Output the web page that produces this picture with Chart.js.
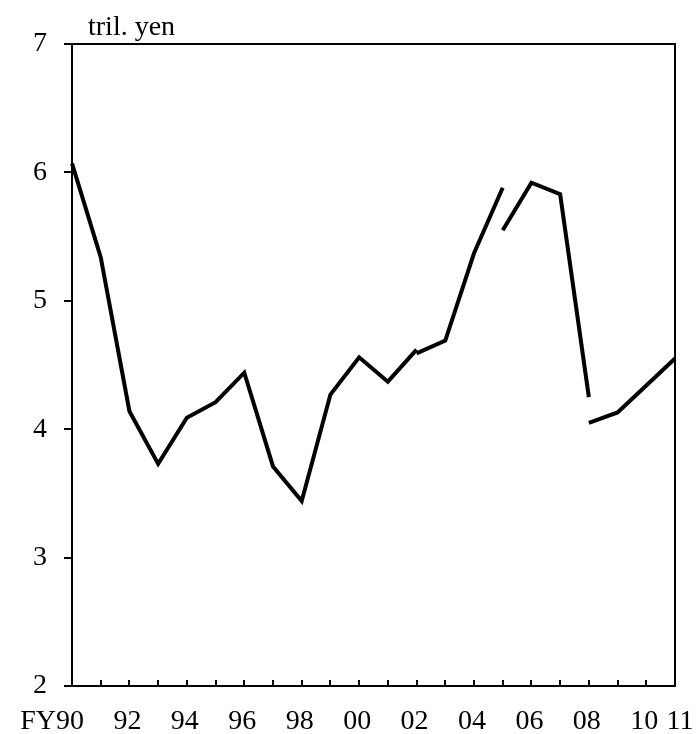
<!DOCTYPE html>
<html>
<head>
<meta charset="utf-8">
<script src="https://cdn.jsdelivr.net/npm/chart.js@4.4.1/dist/chart.umd.min.js"></script>
<style>
  html, body { margin: 0; padding: 0; background: #fff; }
  #wrap { width: 696px; height: 734px; position: relative; }
</style>
</head>
<body>
<div id="wrap"><canvas id="c" width="696" height="734"></canvas></div>
<script>
// ---- data ----
const years = ['90','91','92','93','94','95','96','97','98','99','00','01','02','03','04','05','06','07','08','09','10','11'];
const tickLabels = ['90','92','94','96','98','00','02','04','06','08','10','11'];
const unitLabel = 'tril. yen';
const axisPrefix = 'FY';
// segments (series break at 02, 05, 08)
const seg1Start = '90';
const seg1 = [6.07, 5.34, 4.14, 3.73, 4.09, 4.21, 4.44, 3.71, 3.44, 4.27, 4.56, 4.37, 4.62];
const seg2Start = '02';
const seg2 = [4.59, 4.69, 5.37, 5.88];
const seg3Start = '05';
const seg3 = [5.55, 5.92, 5.83, 4.25];
const seg4Start = '08';
const seg4 = [4.05, 4.13, 4.34, 4.55];
const yTicks = [2, 3, 4, 5, 6, 7];

function place(start, vals) {
  const arr = new Array(years.length).fill(null);
  const s = years.indexOf(start);
  vals.forEach((v, i) => { arr[s + i] = v; });
  return arr;
}

const FONT = '"Liberation Serif", "Times New Roman", serif';
const FS = 28;
const XPAD = 19;

function ds(data) {
  return { data, borderColor: '#000', borderWidth: 4, pointRadius: 0, pointHoverRadius: 0,
           tension: 0, spanGaps: false, fill: false, borderCapStyle: 'butt', borderJoinStyle: 'miter' };
}

const framePlugin = {
  id: 'frame',
  afterDraw(chart) {
    const { ctx, chartArea: { left, right, top, bottom }, scales: { x } } = chart;
    ctx.save();
    ctx.strokeStyle = '#000';
    ctx.lineWidth = 2;
    ctx.beginPath();
    ctx.moveTo(left - 1, top);
    ctx.lineTo(right, top);
    ctx.lineTo(right, bottom + 1);
    ctx.stroke();
    // inner tick marks on the category axis
    ctx.beginPath();
    for (let i = 1; i < years.length - 1; i++) {
      const px = Math.round(x.getPixelForValue(i));
      ctx.moveTo(px, bottom);
      ctx.lineTo(px, bottom - 6);
    }
    ctx.stroke();
    // text
    ctx.fillStyle = '#000';
    ctx.font = FS + 'px ' + FONT;
    ctx.textAlign = 'left';
    ctx.textBaseline = 'alphabetic';
    ctx.fillText(unitLabel, 88, 35);
    // FY prefix before first category label, on the same baseline as the tick labels
    const items = x.getLabelItems ? x.getLabelItems() : null;
    const firstW = ctx.measureText(years[0]).width;
    let fy = x.top + XPAD, base = 'top', tx = x.getPixelForValue(0) - 2;
    if (items && items.length) {
      const it = items[0];
      tx = it.options.translation[0];
      fy = it.options.translation[1] + (it.textOffset || 0);
      base = it.options.textBaseline || 'top';
    }
    ctx.textAlign = 'right';
    ctx.textBaseline = base;
    ctx.fillText(axisPrefix, tx - firstW / 2, fy);
    ctx.restore();
  }
};

new Chart(document.getElementById('c'), {
  type: 'line',
  data: {
    labels: years,
    datasets: [ds(place(seg1Start, seg1)), ds(place(seg2Start, seg2)), ds(place(seg3Start, seg3)), ds(place(seg4Start, seg4))]
  },
  options: {
    responsive: false,
    animation: false,
    events: [],
    layout: { padding: { top: 44, right: 21, left: 0, bottom: 0 } },
    plugins: { legend: { display: false }, tooltip: { enabled: false }, title: { display: false } },
    scales: {
      x: {
        type: 'category',
        offset: false,
        grid: { display: true, drawOnChartArea: false, drawTicks: false },
        border: { display: true, color: '#000', width: 2 },
        ticks: {
          autoSkip: false, maxRotation: 0, minRotation: 0,
          color: '#000', font: { family: FONT, size: FS }, padding: XPAD, labelOffset: -2,
          callback: (v, i) => {
            if (!tickLabels.includes(years[i])) return '';
            return i === years.length - 1 ? '  ' + years[i] : years[i];
          }
        },
        afterFit: (s) => { s.height = 48; s.paddingLeft = 0; s.paddingRight = 0; }
      },
      y: {
        min: 2, max: 7,
        afterBuildTicks: (s) => { s.ticks = yTicks.map(v => ({ value: v })); },
        grid: { display: true, drawOnChartArea: false, drawTicks: true, tickLength: 8, color: '#000', lineWidth: 2 },
        border: { display: true, color: '#000', width: 2 },
        ticks: { color: '#000', font: { family: FONT, size: FS }, padding: 17 },
        afterFit: (s) => { s.width = 72; s.paddingTop = 0; s.paddingBottom = 0; }
      }
    }
  },
  plugins: [framePlugin]
});
</script>
</body>
</html>
